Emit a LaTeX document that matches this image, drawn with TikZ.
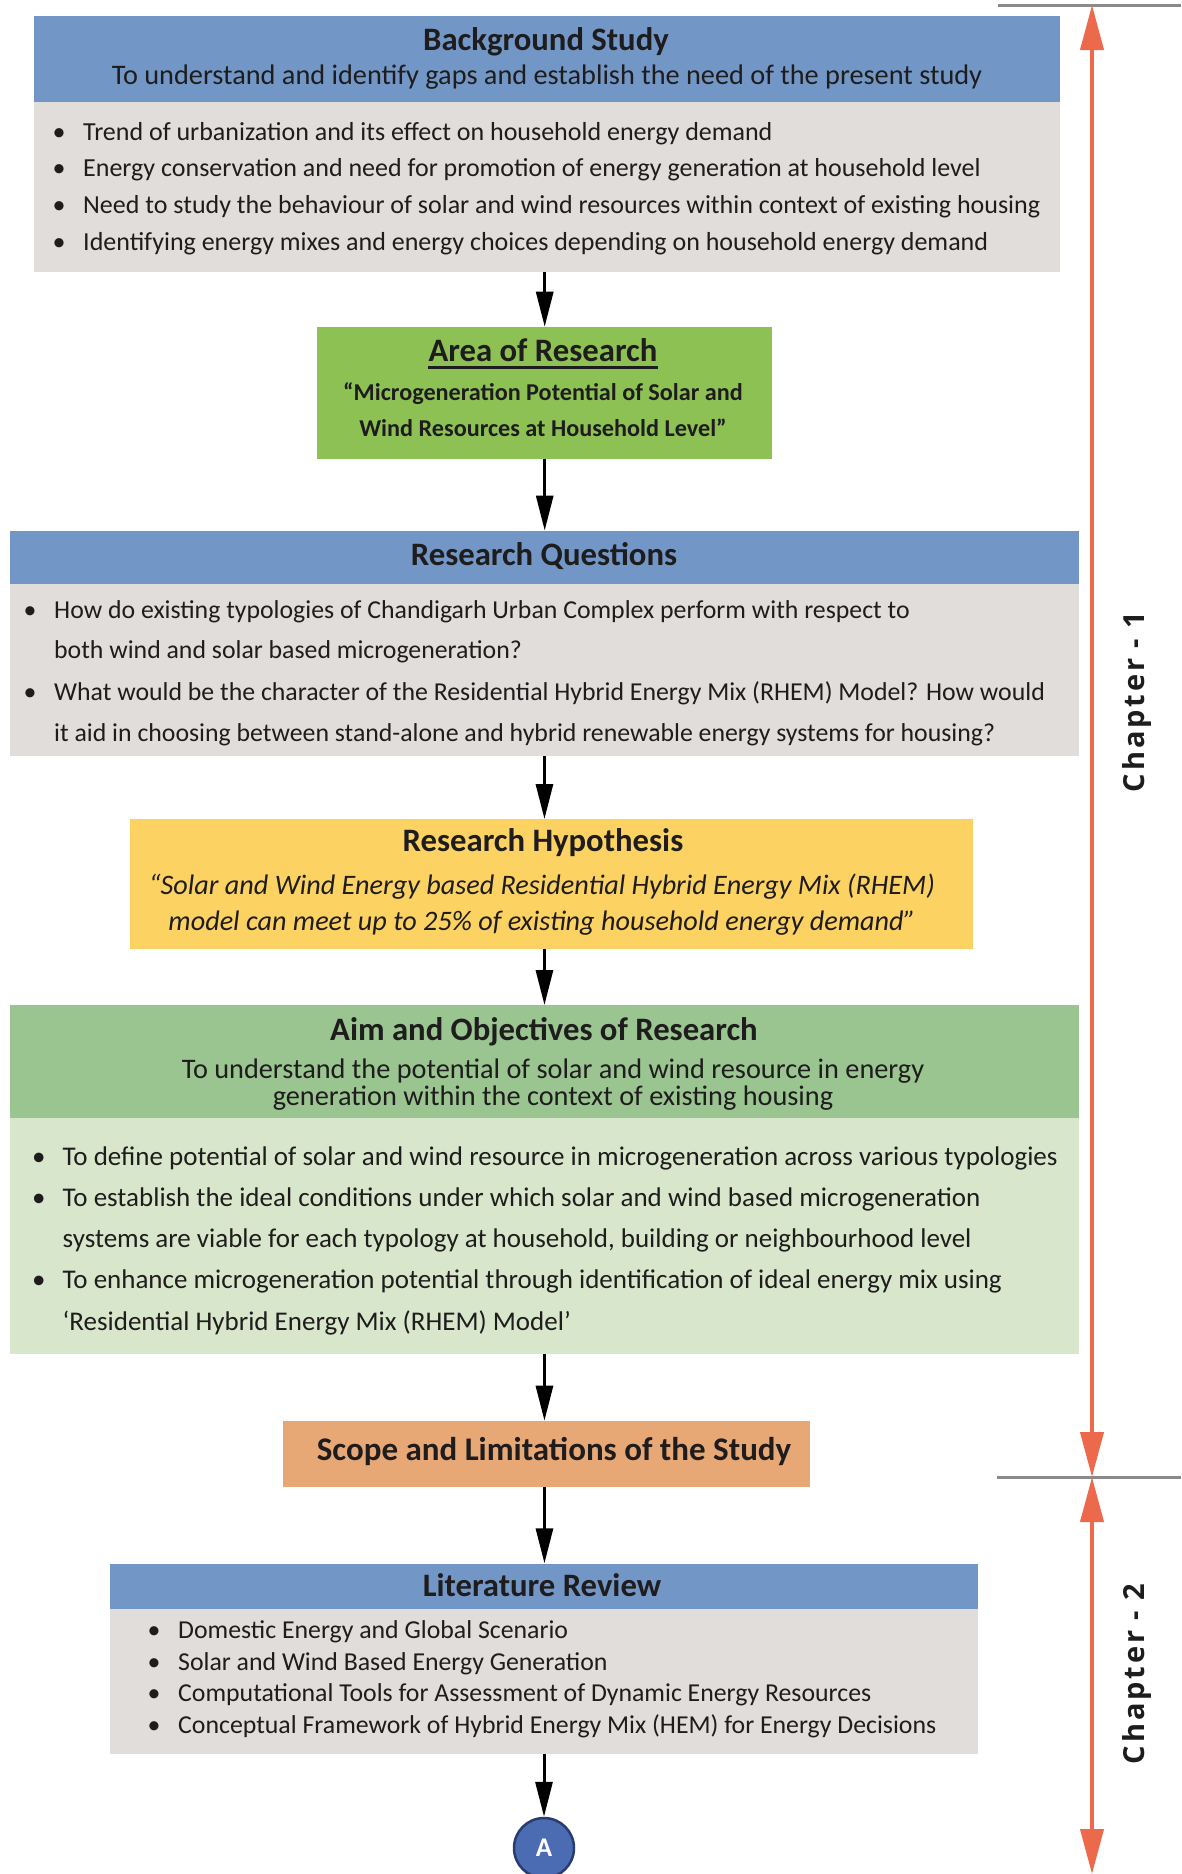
\documentclass[tikz,border=0pt]{standalone}
\usepackage{fontspec}
\setmainfont{Carlito}
\newfontfamily\chapfont[LetterSpace=10]{Open Sans}
\usetikzlibrary{arrows.meta}
\definecolor{hblue}{RGB}{114,151,199}
\definecolor{gbody}{RGB}{224,221,218}
\definecolor{agreen}{RGB}{141,193,84}
\definecolor{hyell}{RGB}{252,210,98}
\definecolor{aimh}{RGB}{154,196,144}
\definecolor{aimb}{RGB}{216,231,203}
\definecolor{scopec}{RGB}{232,168,118}
\definecolor{redc}{RGB}{237,105,76}
\definecolor{lgray}{RGB}{138,138,138}
\definecolor{cblue}{RGB}{75,108,178}
\definecolor{cdark}{RGB}{40,60,110}
\definecolor{ink}{RGB}{30,28,28}
\newcommand\fsz[1]{\fontsize{#1}{#1}\selectfont}
\newcommand\bul{\llap{\makebox[30.5pt][l]{•}}}
\begin{document}
\begin{tikzpicture}[x=1pt,y=-1pt,
  box/.style={rectangle, inner sep=0, anchor=north west, draw=none},
  t/.style={inner sep=0, anchor=mid, text=ink, yshift=-6pt},
  ttl/.style={t, font=\bfseries\fsz{32.7}},
  blt/.style={t, anchor=mid west, font=\fsz{26}},
  arr/.style={-{Triangle[length=35pt,width=17pt]}, line width=3pt, black},
  redarr/.style={{Triangle[length=45pt,width=23pt]}-{Triangle[length=45pt,width=23pt]}, line width=4pt, redc},
  gline/.style={line width=3pt, lgray},
  chap/.style={inner sep=0, text=ink, font=\chapfont\bfseries\fsz{29}}]
\useasboundingbox (0,0) rectangle (1181,1874);
% ---------- boxes
\node[box, fill=hblue, minimum width=1026.5, minimum height=86] (bgh) at (33.5,15.5) {};
\node[box, fill=gbody, minimum width=1026.5, minimum height=170] (bgb) at (33.5,101.5) {};
\node[box, fill=agreen, minimum width=455, minimum height=131.6] (ar) at (317,326.7) {};
\node[box, fill=hblue, minimum width=1069.5, minimum height=52.8] (rqh) at (9.5,530.5) {};
\node[box, fill=gbody, minimum width=1069.5, minimum height=172.7] (rqb) at (9.5,583.3) {};
\node[box, fill=hyell, minimum width=843.5, minimum height=129.3] (hyp) at (129.5,819) {};
\node[box, fill=aimh, minimum width=1069.5, minimum height=113] (aimhd) at (9.5,1005) {};
\node[box, fill=aimb, minimum width=1069.5, minimum height=236] (aimbd) at (9.5,1118) {};
\node[box, fill=scopec, minimum width=526.5, minimum height=66] (sc) at (283,1420.7) {};
\node[box, fill=hblue, minimum width=868.5, minimum height=45] (lith) at (109.5,1563.3) {};
\node[box, fill=gbody, minimum width=868.5, minimum height=145.7] (litb) at (109.5,1608.3) {};
% ---------- background study
\node[ttl] (bgt) at (546,41.7) {Background Study};
\node[t, font=\fsz{28.3}] (bgs) at (547,76) {To understand and identify gaps and establish the need of the present study};
\node[blt] (bg1) at (83,131.7) {\bul Trend of urbanization and its effect on household energy demand};
\node[blt] (bg2) at (83,168.3) {\bul Energy conservation and need for promotion of energy generation at household level};
\node[blt] (bg3) at (83,205) {\bul Need to study the behaviour of solar and wind resources within context of existing housing};
\node[blt] (bg4) at (83,241.7) {\bul Identifying energy mixes and energy choices depending on household energy demand};
% ---------- area of research
\node[ttl] (art) at (543,353) {Area of Research};
\draw[line width=2.3pt, ink] ([yshift=-6pt]art.base west) -- ([yshift=-6pt]art.base east);
\node[t, font=\bfseries\fsz{24.2}] (ar1) at (543,391.7) {“Microgeneration Potential of Solar and};
\node[t, font=\bfseries\fsz{24.2}] (ar2) at (543,428.3) {Wind Resources at Household Level”};
% ---------- research questions
\node[ttl] (rqt) at (544,556.7) {Research Questions};
\node[blt, font=\fsz{25.8}] (rq1) at (54,610) {\bul How do existing typologies of Chandigarh Urban Complex perform with respect to};
\node[blt, font=\fsz{25.8}] (rq2) at (54,650) {both wind and solar based microgeneration?};
\node[blt, font=\fsz{25.8}] (rq3) at (54,691.7) {\bul What would be the character of the Residential Hybrid Energy Mix (RHEM) Model? How would};
\node[blt, font=\fsz{25.8}] (rq4) at (54,733.3) {it aid in choosing between stand-alone and hybrid renewable energy systems for housing?};
% ---------- hypothesis
\node[ttl] (hyt) at (543,843.3) {Research Hypothesis};
\node[t, font=\itshape\fsz{28.2}] (hy1) at (542,886) {“Solar and Wind Energy based Residential Hybrid Energy Mix (RHEM)};
\node[t, font=\itshape\fsz{28.2}] (hy2) at (542,921.7) {model can meet up to 25\% of existing household energy demand”};
% ---------- aim
\node[ttl] (aimt) at (544,1031.7) {Aim and Objectives of Research};
\node[t, font=\fsz{28.3}] (aims1) at (553,1070) {To understand the potential of solar and wind resource in energy};
\node[t, font=\fsz{28.3}] (aims2) at (553,1097) {generation within the context of existing housing};
\node[blt, font=\fsz{27}] (ai1) at (62.5,1156.7) {\bul To define potential of solar and wind resource in microgeneration across various typologies};
\node[blt, font=\fsz{27}] (ai2) at (62.5,1198.3) {\bul To establish the ideal conditions under which solar and wind based microgeneration};
\node[blt, font=\fsz{27}] (ai3) at (62.5,1239.3) {systems are viable for each typology at household, building or neighbourhood level};
\node[blt, font=\fsz{27}] (ai4) at (62.5,1280) {\bul To enhance microgeneration potential through identification of ideal energy mix using};
\node[blt, font=\fsz{27}] (ai5) at (62.5,1321.7) {‘Residential Hybrid Energy Mix (RHEM) Model’};
% ---------- scope
\node[t, font=\bfseries\fsz{33}] (sct) at (554,1451.7) {Scope and Limitations of the Study};
% ---------- literature review
\node[ttl] (litt) at (542,1588) {Literature Review};
\node[blt, font=\fsz{25.8}] (li1) at (178,1630) {\bul Domestic Energy and Global Scenario};
\node[blt, font=\fsz{25.8}] (li2) at (178,1661.7) {\bul Solar and Wind Based Energy Generation};
\node[blt, font=\fsz{25.8}] (li3) at (178,1693.3) {\bul Computational Tools for Assessment of Dynamic Energy Resources};
\node[blt, font=\fsz{25.8}] (li4) at (178,1725) {\bul Conceptual Framework of Hybrid Energy Mix (HEM) for Energy Decisions};
% ---------- connector A
\node[circle, fill=cblue, draw=cdark, line width=2.5pt, minimum size=60pt, inner sep=0, text=white, font=\bfseries\fsz{27}] (ca) at (544,1848) {A};
% ---------- arrows
\draw[arr] (bgb.south -| ar.north) -- (ar.north);
\draw[arr] (ar.south) -- (ar.south |- rqh.north);
\draw[arr] (rqb.south) -- (rqb.south |- hyp.north);
\draw[arr] (hyp.south -| aimhd.north) -- (aimhd.north);
\draw[arr] (aimbd.south) -- (aimbd.south |- sc.north);
\draw[arr] (sc.south -| aimbd.south) -- (lith.north -| aimbd.south);
\draw[arr] (litb.south -| ca.north) -- (ca.north);
% ---------- chapter markers
\coordinate (g1a) at (998,5);
\coordinate (g1b) at (1181,5);
\coordinate (g2a) at (997,1477);
\coordinate (g2b) at (1181,1477);
\coordinate (r1) at (1092,5);
\coordinate (r2) at (1092,1477);
\coordinate (r3) at (1092,1874);
\draw[gline] (g1a) -- (g1b);
\draw[gline] (g2a) -- (g2b);
\draw[redarr] (r1) -- (r2);
\draw[redarr] (r2) -- (r3);
\node[chap, rotate=90] (ch1) at (1137,702) {Chapter - 1};
\node[chap, rotate=90] (ch2) at (1137,1674) {Chapter - 2};
\end{tikzpicture}
\end{document}
